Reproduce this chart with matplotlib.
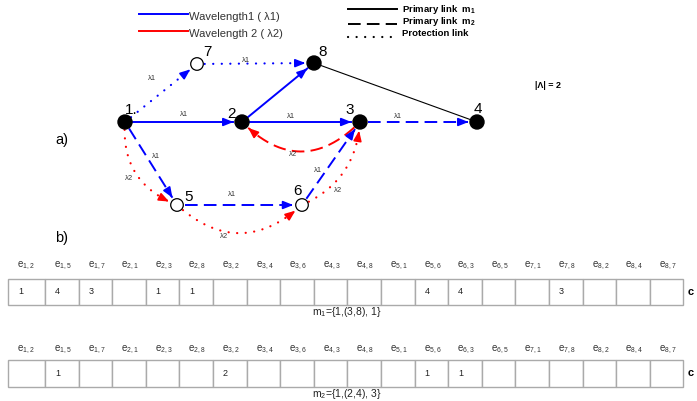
import numpy as np
import matplotlib.pyplot as plt
from matplotlib.patches import Circle, Rectangle

plt.rcParams['font.family'] = ['Liberation Sans', 'DejaVu Sans']
plt.rcParams['mathtext.default'] = 'regular'

# ---- graph data ----
nodes = [1, 2, 3, 4, 5, 6, 7, 8]
node_pos = {1: (125, 122), 2: (242, 122), 3: (360, 122), 4: (477, 122),
            5: (177, 205), 6: (302, 205), 7: (197, 64), 8: (314, 63)}
open_nodes = [5, 6, 7]

# (from, to, wavelength, link type, bend, label position)
edges = [
    (1, 7, 'λ1', 'protect', 0.0, (152, 79)),
    (7, 8, 'λ1', 'protect', 0.0, (246, 61)),
    (1, 2, 'λ1', 'primary1', 0.0, (184, 114)),
    (2, 3, 'λ1', 'primary1', 0.0, (291, 117)),
    (2, 8, None, 'primary1', 0.0, None),
    (3, 4, 'λ1', 'primary2', 0.0, (398, 117)),
    (1, 5, 'λ1', 'primary2', 0.0, (156, 157)),
    (5, 6, 'λ1', 'primary2', 0.0, (232, 194)),
    (6, 3, 'λ1', 'primary2', 0.0, (318, 170)),
    (3, 2, 'λ2', 'primary2', 0.5, (293, 154)),
    (1, 5, 'λ2', 'protect', -0.37, (129, 179)),
    (6, 3, 'λ2', 'protect', -0.3, (338, 190)),
    (5, 6, 'λ2', 'protect', -0.45, (224, 237)),
]

# ---- table data ----
edge_names = ['1,2', '1,5', '1,7', '2,1', '2,3', '2,8', '3,2', '3,4', '3,6', '4,3',
              '4,8', '5,1', '5,6', '6,3', '6,5', '7,1', '7,8', '8,2', '8,4', '8,7']
m1_values = [1, 4, 3, None, 1, 1, None, None, None, None,
             None, None, 4, 4, None, None, 3, None, None, None]
m2_values = [None, 1, None, None, None, None, 2, None, None, None,
             None, None, 1, 1, None, None, None, None, None, None]
m1_caption = 'm$_1$={1,(3,8), 1}'
m2_caption = 'm$_2$={1,(2,4), 3}'

colors = {'λ1': 'blue', 'λ2': 'red', None: 'blue'}
styles = {'primary1': '-', 'primary2': (0, (6.5, 3.2)), 'protect': (0, (0.05, 3.8))}

fig = plt.figure(figsize=(6.97, 4.01), dpi=100)
ax = fig.add_axes([0, 0, 1, 1])
ax.set_xlim(0, 697)
ax.set_ylim(401, 0)
ax.axis('off')


def draw_edge(a, b, color, ls, rad, r0, r1):
    p0 = np.array(node_pos[a], float)
    p2 = np.array(node_pos[b], float)
    d = p2 - p0
    c = (p0 + p2) / 2 + rad * np.array([d[1], -d[0]])
    t = np.linspace(0, 1, 400)[:, None]
    pts = (1 - t) ** 2 * p0 + 2 * (1 - t) * t * c + t ** 2 * p2
    keep = (np.hypot(*(pts - p0).T) > r0) & (np.hypot(*(pts - p2).T) > r1)
    pts = pts[keep]
    if ls == styles['protect']:
        ax.plot(pts[:, 0], pts[:, 1], color=color, lw=1.6, ls=ls,
                dash_capstyle='round', zorder=2)
    else:
        ax.plot(pts[:, 0], pts[:, 1], color=color, lw=1.4, ls=ls,
                dash_capstyle='butt', zorder=2)
    ax.annotate('', xy=pts[-1], xytext=pts[-12],
                arrowprops=dict(arrowstyle='-|>,head_length=0.55,head_width=0.22',
                                color=color, lw=1.2, mutation_scale=11,
                                shrinkA=0, shrinkB=0), zorder=3)


# black link 8-4
ax.plot([node_pos[8][0], node_pos[4][0]], [node_pos[8][1], node_pos[4][1]],
        color='black', lw=0.8, zorder=1)

for a, b, wl, kind, rad, lab in edges:
    col = colors[wl]
    draw_edge(a, b, col, styles[kind], rad, 7.5, 8.5)
    if lab is not None:
        ax.text(lab[0], lab[1], wl, fontsize=5.5, color='#333333',
                ha='center', va='center')

for n in nodes:
    x, y = node_pos[n]
    if n in open_nodes:
        ax.add_patch(Circle((x, y), 6.3, facecolor='white', edgecolor='black',
                            lw=0.9, zorder=4))
    else:
        ax.add_patch(Circle((x, y), 7, facecolor='black', edgecolor='black', zorder=4))

node_labels = {1: ('1.', 131, 110), 2: ('2', 232, 114), 3: ('3', 350, 110),
               4: ('4', 478, 109), 5: ('5', 189, 197), 6: ('6', 297, 191),
               7: ('7', 207, 52), 8: ('8', 323, 52)}
for n, (s, x, y) in node_labels.items():
    ax.text(x, y, s, fontsize=11, ha='center', va='center', color='black')

ax.text(62, 140, 'a)', fontsize=10.5, ha='center', va='center')
ax.text(62, 238, 'b)', fontsize=10.5, ha='center', va='center')

# legends
ax.plot([139, 188], [14, 14], color='blue', lw=1.4)
ax.text(189, 17, 'Wavelength1 ( λ1)', fontsize=8, color='#333333', va='center')
ax.plot([139, 188], [31, 31], color='red', lw=1.4)
ax.text(189, 34, 'Wavelength 2 ( λ2)', fontsize=8, color='#333333', va='center')

ax.plot([348, 397], [9, 9], color='black', lw=1.4)
ax.plot([348, 397], [24, 24], color='black', lw=1.4, ls=(0, (6.5, 3.2)))
ax.plot([348, 397], [37, 37], color='black', lw=1.6, ls=(0, (0.05, 3.8)),
        dash_capstyle='round')
ax.text(402, 9.5, 'Primary link  m$_1$', fontsize=6.8, fontweight='bold', va='center')
ax.text(402, 21.5, 'Primary link  m$_2$', fontsize=6.8, fontweight='bold', va='center')
ax.text(402, 33, 'Protection link', fontsize=6.8, fontweight='bold', va='center')

ax.text(535, 85, '|Λ| = 2', fontsize=6.5, fontweight='bold', va='center')

# tables
col_edges = [8] + [45 + 33.6 * k for k in range(len(edge_names))]


def draw_table(values, caption, y_head, y_top, y_bot, y_cap):
    for i, name in enumerate(edge_names):
        x0, x1 = col_edges[i], col_edges[i + 1]
        ax.add_patch(Rectangle((x0, y_top), x1 - x0, y_bot - y_top, facecolor='white',
                               edgecolor='#aaaaaa', lw=1.0, zorder=1))
        ax.text(x0 + 9, y_head, 'e$_{%s}$' % name, fontsize=7, color='#333333',
                va='center')
        if values[i] is not None:
            ax.text(x0 + 10, (y_top + y_bot) / 2, str(values[i]), fontsize=6.5,
                    color='#222222', va='center')
    ax.text(347, y_cap, caption, fontsize=7.5, ha='center', va='center', color='#222222')
    ax.text(688, (y_top + y_bot) / 2, 'c', fontsize=8, fontweight='bold', va='center')


draw_table(m1_values, m1_caption, 266, 279, 305, 312)
draw_table(m2_values, m2_caption, 350, 360, 387, 394)

fig.savefig('out.png', dpi=100)
